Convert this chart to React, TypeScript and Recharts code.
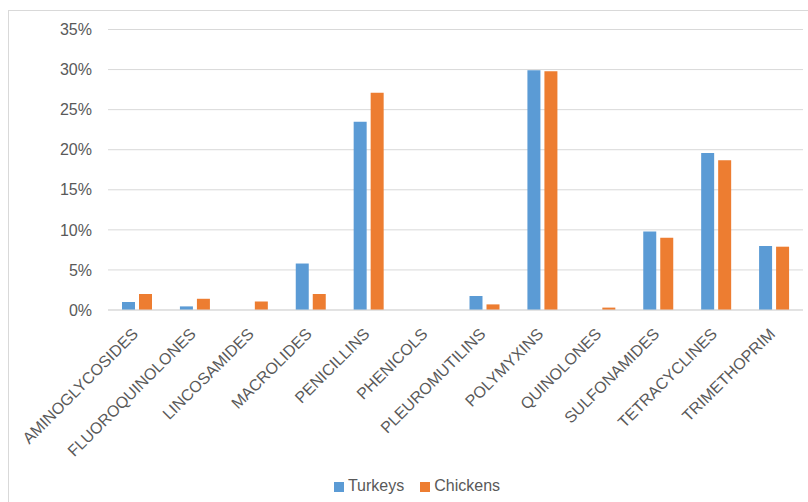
import React from 'react';
import { BarChart, Bar, XAxis, YAxis, CartesianGrid, Legend } from 'recharts';

const classes = [
  'AMINOGLYCOSIDES',
  'FLUOROQUINOLONES',
  'LINCOSAMIDES',
  'MACROLIDES',
  'PENICILLINS',
  'PHENICOLS',
  'PLEUROMUTILINS',
  'POLYMYXINS',
  'QUINOLONES',
  'SULFONAMIDES',
  'TETRACYCLINES',
  'TRIMETHOPRIM',
];

// share of use, in percent
const turkeys = [1.0, 0.45, 0, 5.8, 23.5, 0, 1.75, 29.9, 0, 9.8, 19.6, 8.0];
const chickens = [2.0, 1.4, 1.05, 2.0, 27.1, 0, 0.7, 29.8, 0.3, 9.0, 18.7, 7.9];

const yTicks = [0, 5, 10, 15, 20, 25, 30, 35];

const seriesOrder = ['Turkeys', 'Chickens'];

const data = classes.map((name, i) => ({
  name,
  Turkeys: turkeys[i],
  Chickens: chickens[i],
}));

const font = '"Liberation Sans", Arial, sans-serif';
const textColor = '#595959';

const App: React.FC = () => {
  return (
    <div
      style={{
        position: 'absolute',
        left: 0,
        top: 0,
        width: 808,
        height: 502,
        overflow: 'hidden',
        background: '#fff',
        fontFamily: font,
      }}
    >
      <div
        style={{
          position: 'absolute',
          left: 8,
          top: 10,
          width: 900,
          height: 600,
          border: '1px solid #d9d9d9',
        }}
      />
      <div style={{ position: 'absolute', left: 0, top: 0 }}>
        <BarChart
          width={808}
          height={502}
          data={data}
          margin={{ top: 29.5, right: 5, left: 0, bottom: 7 }}
          barSize={13}
          barGap={4}
        >
          <CartesianGrid vertical={false} stroke="#d9d9d9" />
          <XAxis
            dataKey="name"
            interval={0}
            angle={-45}
            height={167}
            tickLine={false}
            axisLine={{ stroke: '#d9d9d9' }}
            tickMargin={11}
            tick={{ fill: textColor, fontSize: 16, fontFamily: font, textAnchor: 'end', dx: -6 }}
          />
          <YAxis
            width={108}
            domain={[0, 35]}
            ticks={yTicks}
            tickFormatter={(v: number) => `${v}%`}
            tickLine={false}
            axisLine={false}
            tickMargin={10}
            tick={{ fill: textColor, fontSize: 16, fontFamily: font }}
          />
          <Legend
            verticalAlign="bottom"
            iconType="square"
            iconSize={10}
            itemSorter={(item: any) => seriesOrder.indexOf(item.dataKey)}
            wrapperStyle={{ fontSize: 16, fontFamily: font, color: textColor, left: 38, width: 774 }}
            formatter={(value: string) => (
              <span style={{ color: textColor, paddingRight: 6 }}>{value}</span>
            )}
          />
          <Bar dataKey="Turkeys" fill="#5b9bd5" isAnimationActive={false} />
          <Bar dataKey="Chickens" fill="#ed7d31" isAnimationActive={false} />
        </BarChart>
      </div>
    </div>
  );
};

export default App;
